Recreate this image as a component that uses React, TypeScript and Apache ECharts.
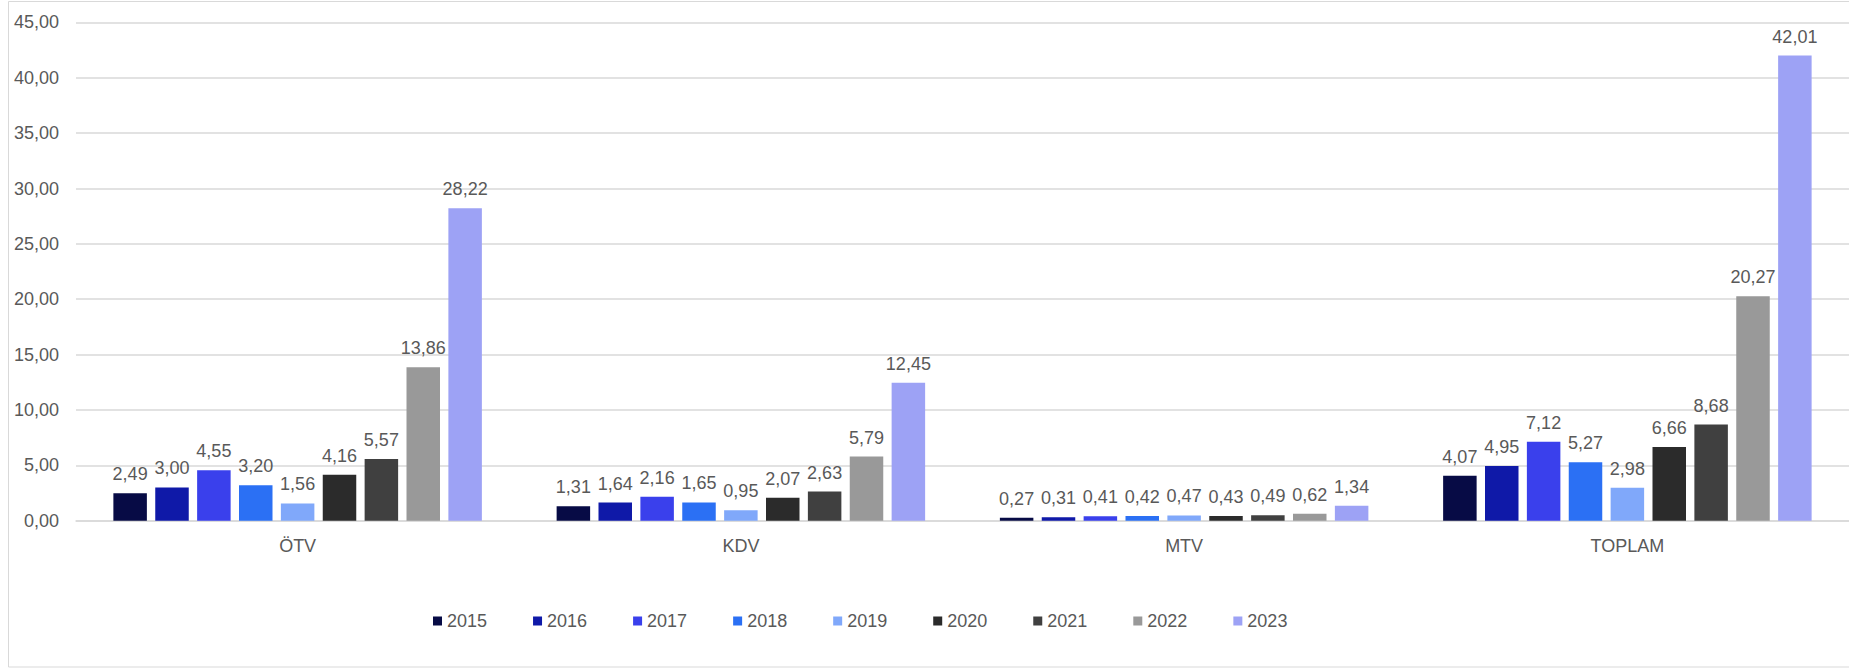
import React, { useEffect, useRef } from "react";
import * as echarts from "echarts";

const categories = ["ÖTV", "KDV", "MTV", "TOPLAM"];
const years = ["2015", "2016", "2017", "2018", "2019", "2020", "2021", "2022", "2023"];
const v2015 = [2.49, 1.31, 0.27, 4.07];
const v2016 = [3.0, 1.64, 0.31, 4.95];
const v2017 = [4.55, 2.16, 0.41, 7.12];
const v2018 = [3.2, 1.65, 0.42, 5.27];
const v2019 = [1.56, 0.95, 0.47, 2.98];
const v2020 = [4.16, 2.07, 0.43, 6.66];
const v2021 = [5.57, 2.63, 0.49, 8.68];
const v2022 = [13.86, 5.79, 0.62, 20.27];
const v2023 = [28.22, 12.45, 1.34, 42.01];
const seriesValues = [v2015, v2016, v2017, v2018, v2019, v2020, v2021, v2022, v2023];
const colors = ["#070B45", "#0F19A8", "#3A40EC", "#2B70F4", "#80A8FA", "#2B2B2B", "#404040", "#999999", "#9DA2F5"];

const fmt = (v: number) => v.toFixed(2).replace(".", ",");
const FONT = "'Liberation Sans', Arial, sans-serif";
const TXT = "#595959";

export default function App() {
  const ref = useRef<HTMLDivElement>(null);
  useEffect(() => {
    document.body.style.margin = "0";
    const chart = echarts.init(ref.current!, undefined, { renderer: "svg" });
    chart.setOption({
      animation: false,
      textStyle: { fontFamily: FONT },
      graphic: [
        {
          type: "rect",
          shape: { x: 8.5, y: 1.5, width: 1900, height: 665.5 },
          style: { fill: "none", stroke: "#d9d9d9", lineWidth: 1 },
          silent: true,
        },
      ],
      legend: {
        left: 428,
        top: 607,
        itemWidth: 9,
        itemHeight: 9,
        itemGap: 46,
        icon: "rect",
        textStyle: { fontSize: 18, color: TXT, fontFamily: FONT, padding: [0, 0, 0, 0] },
        data: years,
      },
      grid: { left: 76, top: 22.4, width: 1778.6, height: 498.3, containLabel: false },
      xAxis: {
        type: "category",
        data: categories,
        axisTick: { show: false },
        axisLine: { lineStyle: { color: "#d9d9d9", width: 1.5 } },
        axisLabel: { fontSize: 18, color: TXT, margin: 16, fontFamily: FONT },
      },
      yAxis: {
        type: "value",
        min: 0,
        max: 45,
        interval: 5,
        axisLine: { show: false },
        axisTick: { show: false },
        splitLine: { lineStyle: { color: "#d9d9d9", width: 1.5 } },
        axisLabel: { fontSize: 18, color: TXT, margin: 17, fontFamily: FONT, formatter: (v: number) => fmt(v) },
      },
      series: years.map((y, i) => ({
        name: y,
        type: "bar",
        data: seriesValues[i],
        barWidth: 33.5,
        barGap: "25%",
        itemStyle: { color: colors[i] },
        label: {
          show: true,
          position: "top",
          distance: 10,
          fontSize: 18,
          color: TXT,
          fontFamily: FONT,
          formatter: (p: any) => fmt(p.value),
        },
      })),
    });
    return () => chart.dispose();
  }, []);
  return <div ref={ref} style={{ width: 1849, height: 668 }} />;
}
